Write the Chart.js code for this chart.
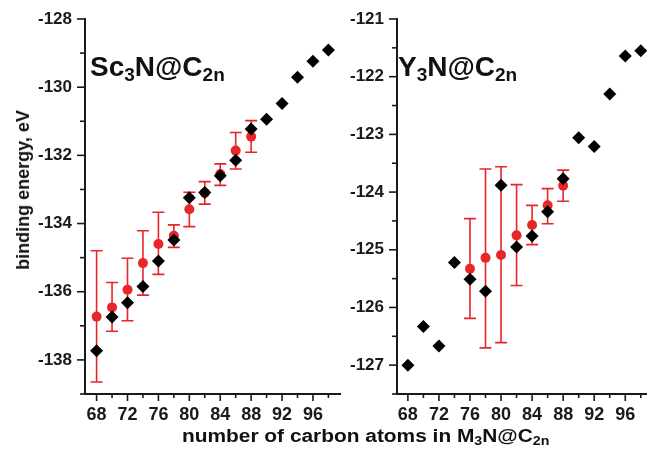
<!DOCTYPE html>
<html>
<head>
<meta charset="utf-8">
<script src="https://cdn.jsdelivr.net/npm/chart.js@4.4.0/dist/chart.umd.min.js"></script>
<style>
  body { margin: 0; background: #fff; width: 647px; height: 449px; overflow: hidden; position: relative;
         font-family: "Liberation Sans", Arial, sans-serif; font-weight: bold; color: #111; }
  canvas { position: absolute; top: 0; }
  #scChart { left: 0; }
  #yChart { left: 340px; }
  .txt { position: absolute; white-space: nowrap; line-height: 1; }
  .txt sub { font-size: 0.68em; vertical-align: -0.28em; line-height: 0; }
  .panel { font-size: 28px; top: 53px; }
  #xTitle { font-size: 18px; left: 182px; top: 427px; transform: scaleX(1.16); transform-origin: 0 0; }
  #yTitle { font-size: 18px; left: 23px; top: 190px; transform: translate(-50%, -50%) rotate(-90deg); }
</style>
</head>
<body>
<canvas id="scChart" width="345" height="449"></canvas>
<canvas id="yChart" width="307" height="449"></canvas>
<div class="txt panel" style="left:90px">Sc<sub>3</sub>N@C<sub>2n</sub></div>
<div class="txt panel" style="left:398px">Y<sub>3</sub>N@C<sub>2n</sub></div>
<div class="txt" id="xTitle">number of carbon atoms in M<sub>3</sub>N@C<sub>2n</sub></div>
<div class="txt" id="yTitle">binding energy, eV</div>
<script>
// ---- data ----
const carbon = [68, 70, 72, 74, 76, 78, 80, 82, 84, 86, 88, 90, 92, 94, 96, 98];

// Sc3N@C2n
const scBinding = [-137.73, -136.74, -136.32, -135.85, -135.10, -134.48, -133.24, -133.09,
                   -132.60, -132.14, -131.23, -130.94, -130.48, -129.71, -129.24, -128.91];
const scAvgCarbon = [68, 70, 72, 74, 76, 78, 80, 82, 84, 86, 88];
const scAvg    = [-136.73, -136.46, -135.94, -135.16, -134.60, -134.36, -133.58, -133.10, -132.55, -131.86, -131.45];
const scErrTop = [-134.80, -135.73, -135.02, -134.21, -133.67, -134.04, -133.08, -132.77, -132.25, -131.33, -130.98];
const scErrBot = [-138.65, -137.16, -136.85, -136.10, -135.49, -134.70, -134.09, -133.43, -132.88, -132.40, -131.91];

// Y3N@C2n
const yBinding = [-127.00, -126.33, -126.67, -125.22, -125.51, -125.72, -123.88, -124.95,
                  -124.76, -124.34, -123.77, -123.06, -123.21, -122.30, -121.64, -121.55];
const yAvgCarbon = [76, 78, 80, 82, 84, 86, 88];
const yAvg    = [-125.33, -125.14, -125.09, -124.75, -124.57, -124.23, -123.89];
const yErrTop = [-124.46, -123.60, -123.56, -123.87, -124.23, -123.94, -123.62];
const yErrBot = [-126.19, -126.70, -126.61, -125.62, -124.91, -124.55, -124.16];

// ticks
const xTickValues = [68, 70, 72, 74, 76, 78, 80, 82, 84, 86, 88, 90, 92, 94, 96, 98];
const xTickLabels = ['68', '', '72', '', '76', '', '80', '', '84', '', '88', '', '92', '', '96', ''];
const scTickValues = [-139, -138, -137, -136, -135, -134, -133, -132, -131, -130, -129, -128];
const scTickLabels = ['', '-138', '', '-136', '', '-134', '', '-132', '', '-130', '', '-128'];
const yTickValues = [-127.5, -127, -126.5, -126, -125.5, -125, -124.5, -124, -123.5, -123, -122.5, -122, -121.5, -121];
const yTickLabels = ['', '-127', '', '-126', '', '-125', '', '-124', '', '-123', '', '-122', '', '-121'];

const RED = '#e8262a';
const INK = '#1a1a1a';

// draws the red error bars behind the points
const errorBars = {
    id: 'errorBars',
    beforeDatasetsDraw(chart, args, opts) {
        const { x, y } = chart.scales;
        const ctx = chart.ctx;
        ctx.save();
        ctx.strokeStyle = RED;
        ctx.lineWidth = 1.6;
        opts.xs.forEach((v, i) => {
            const px = x.getPixelForValue(v);
            const top = y.getPixelForValue(opts.hi[i]);
            const bot = y.getPixelForValue(opts.lo[i]);
            ctx.beginPath();
            ctx.moveTo(px, top); ctx.lineTo(px, bot);
            ctx.moveTo(px - 6, top); ctx.lineTo(px + 6, top);
            ctx.moveTo(px - 6, bot); ctx.lineTo(px + 6, bot);
            ctx.stroke();
        });
        ctx.restore();
    }
};

// long ticks where there is a label, short ones otherwise
const tickMarks = {
    id: 'tickMarks',
    afterDraw(chart) {
        const { x, y } = chart.scales;
        const ctx = chart.ctx;
        ctx.save();
        ctx.strokeStyle = INK;
        ctx.lineWidth = 1.6;
        x.ticks.forEach(t => {
            const px = x.getPixelForValue(t.value);
            const len = t.label ? 7 : 4;
            ctx.beginPath(); ctx.moveTo(px, x.top); ctx.lineTo(px, x.top + len); ctx.stroke();
        });
        y.ticks.forEach(t => {
            const py = y.getPixelForValue(t.value);
            const len = t.label ? 8 : 5;
            ctx.beginPath(); ctx.moveTo(y.right, py); ctx.lineTo(y.right - len, py); ctx.stroke();
        });
        ctx.restore();
    }
};

function makeChart(id, o) {
    const fontFamily = '"Liberation Sans", Arial, sans-serif';
    const axisBase = {
        type: 'linear',
        grid: { display: true, drawOnChartArea: false, drawTicks: true, tickLength: 8, tickColor: 'rgba(0,0,0,0)' },
        border: { display: true, color: INK, width: 2 },
    };
    return new Chart(document.getElementById(id), {
        type: 'scatter',
        data: {
            datasets: [
                {
                    label: 'binding energy',
                    data: carbon.map((c, i) => ({ x: c, y: o.binding[i] })),
                    pointStyle: 'rectRot',
                    pointRadius: 6.5,
                    backgroundColor: '#000',
                    borderWidth: 0
                },
                {
                    label: 'average',
                    data: o.avgCarbon.map((c, i) => ({ x: c, y: o.avg[i] })),
                    pointStyle: 'circle',
                    pointRadius: 5,
                    backgroundColor: RED,
                    borderWidth: 0
                }
            ]
        },
        options: {
            responsive: false,
            animation: false,
            layout: { autoPadding: false, padding: { top: 19, right: o.padRight, left: 0, bottom: 0 } },
            plugins: {
                legend: { display: false },
                tooltip: { enabled: false },
                errorBars: { xs: o.avgCarbon, hi: o.errTop, lo: o.errBot }
            },
            scales: {
                x: {
                    ...axisBase,
                    min: o.xMin, max: o.xMax,
                    afterBuildTicks: s => { s.ticks = xTickValues.map(v => ({ value: v })); },
                    afterFit: s => { s.height = 55; s.paddingLeft = 0; s.paddingRight = 0; },
                    ticks: { font: { family: fontFamily, size: 18, weight: 'bold' }, color: INK, padding: 2,
                             maxRotation: 0, autoSkip: false, callback: (v, i) => xTickLabels[i] }
                },
                y: {
                    ...axisBase,
                    min: o.yMin, max: o.yMax,
                    afterBuildTicks: s => { s.ticks = o.tickValues.map(v => ({ value: v })); },
                    afterFit: s => { s.width = o.yWidth; },
                    ticks: { font: { family: fontFamily, size: 17, weight: 'bold' }, color: INK, padding: 5,
                             autoSkip: false, callback: (v, i) => o.tickLabels[i] }
                }
            }
        },
        plugins: [errorBars, tickMarks]
    });
}

makeChart('scChart', {
    binding: scBinding, avgCarbon: scAvgCarbon, avg: scAvg, errTop: scErrTop, errBot: scErrBot,
    xMin: 66.5, xMax: 99.5, yMin: -139, yMax: -128,
    tickValues: scTickValues, tickLabels: scTickLabels, yWidth: 85, padRight: 5
});
makeChart('yChart', {
    binding: yBinding, avgCarbon: yAvgCarbon, avg: yAvg, errTop: yErrTop, errBot: yErrBot,
    xMin: 66.6, xMax: 98.8, yMin: -127.5, yMax: -121,
    tickValues: yTickValues, tickLabels: yTickLabels, yWidth: 57, padRight: 0
});
</script>
</body>
</html>
